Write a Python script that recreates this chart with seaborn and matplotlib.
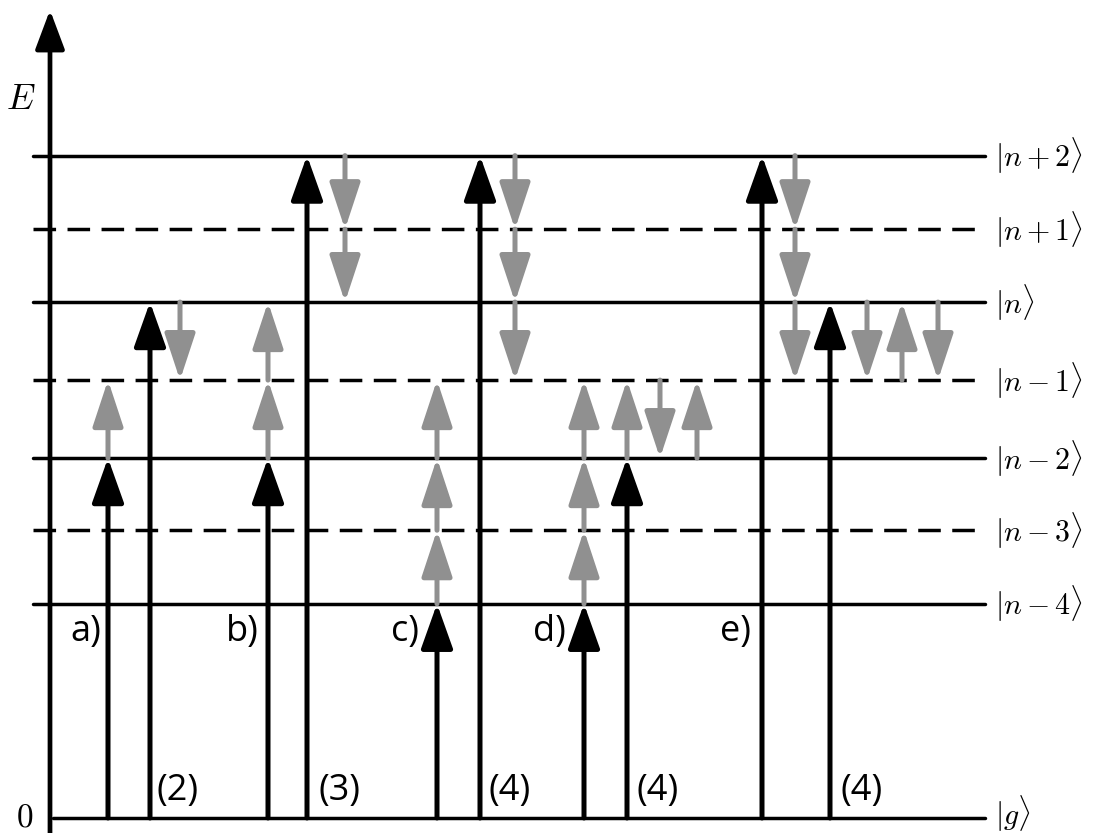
import matplotlib.pyplot as plt
import seaborn as sns
import pandas as pd

# energy levels (arbitrary units, ground = 0)
levels = ["g", "n-4", "n-3", "n-2", "n-1", "n", "n+1", "n+2"]
energies = [0.0, 2.91, 3.91, 4.89, 5.95, 7.01, 8.0, 9.0]
virtual_levels = ["n-3", "n-1", "n+1"]
level_labels = [r"$|g\rangle$", r"$|n-4\rangle$", r"$|n-3\rangle$", r"$|n-2\rangle$",
                r"$|n-1\rangle$", r"$|n\rangle$", r"$|n+1\rangle$", r"$|n+2\rangle$"]

panel_labels = ["a)", "b)", "c)", "d)", "e)"]
order_labels = ["(2)", "(3)", "(4)", "(4)", "(4)"]

# transitions per panel: (kind, chain of levels)
panel_a = [("pump", ["g", "n-2"]), ("step", ["n-2", "n-1"]),
           ("pump", ["g", "n"]), ("step", ["n", "n-1"])]
panel_b = [("pump", ["g", "n-2"]), ("step", ["n-2", "n-1", "n"]),
           ("pump", ["g", "n+2"]), ("step", ["n+2", "n+1", "n"])]
panel_c = [("pump", ["g", "n-4"]), ("step", ["n-4", "n-3", "n-2", "n-1"]),
           ("pump", ["g", "n+2"]), ("step", ["n+2", "n+1", "n", "n-1"])]
panel_d = [("pump", ["g", "n-4"]), ("step", ["n-4", "n-3", "n-2", "n-1"]),
           ("pump", ["g", "n-2"]), ("step", ["n-2", "n-1"]),
           ("step", ["n-1", "n-2"]), ("step", ["n-2", "n-1"])]
panel_e = [("pump", ["g", "n+2"]), ("step", ["n+2", "n+1", "n", "n-1"]),
           ("pump", ["g", "n"]), ("step", ["n", "n-1"]),
           ("step", ["n-1", "n"]), ("step", ["n", "n-1"])]
panels = [panel_a, panel_b, panel_c, panel_d, panel_e]

# layout (pixel-like x coordinates)
chain_x = [[108, 108, 150, 180],
           [268, 268, 307, 345],
           [437, 437, 480, 515],
           [584, 584, 627, 627, 660, 697],
           [762, 795, 830, 867, 902, 938]]
panel_label_x = [101, 259, 419, 566, 751]
order_label_x = [156, 319, 489, 636, 841]

E = dict(zip(levels, energies))
px = 73.6  # pixels per energy unit

sns.set_theme(style="white")
plt.rcParams["mathtext.fontset"] = "cm"
plt.rcParams["font.family"] = ["Open Sans", "DejaVu Sans"]
plt.rcParams["text.color"] = "black"

fig = plt.figure(figsize=(10.95, 8.33), dpi=100)
ax = fig.add_axes([0, 0, 1, 1])
ax.set_xlim(0, 1095)
ax.set_ylim(-15 / px, 818 / px)
ax.axis("off")

# level lines
rows = []
for lv in levels:
    x0 = 53 if lv == "g" else 33
    kind = "dashed" if lv in virtual_levels else "solid"
    rows.append({"x": x0, "E": E[lv], "level": lv, "kind": kind})
    rows.append({"x": 985, "E": E[lv], "level": lv, "kind": kind})
df = pd.DataFrame(rows)
sns.lineplot(data=df, x="x", y="E", units="level", estimator=None, style="kind",
             dashes={"solid": "", "dashed": (6.5, 3.3)}, color="black",
             lw=2.5, legend=False, ax=ax)

for lv, lab in zip(levels, level_labels):
    y = E[lv] + (4 / px if lv == "g" else 0)
    ax.text(995, y, lab, fontsize=21.5, ha="left", va="center")

# energy axis
ax.annotate("", xy=(50, 808 / px), xytext=(50, -15 / px),
            arrowprops=dict(arrowstyle="-|>,head_length=24,head_width=9",
                            mutation_scale=1, lw=3.4, color="black",
                            shrinkA=0, shrinkB=0))
ax.text(21, 718 / px, r"$E$", fontsize=26, ha="center", va="center")
ax.text(25, 0, r"$0$", fontsize=24, ha="center", va="center")


def arrow(x, e0, e1, kind):
    if kind == "pump":
        style = "-|>,head_length=27.5,head_width=9.8"
        col = "black"
    else:
        style = "-|>,head_length=28.5,head_width=9.4"
        col = "#909090"
    ax.annotate("", xy=(x, e1), xytext=(x, e0),
                arrowprops=dict(arrowstyle=style, mutation_scale=1, lw=3.6,
                                color=col, shrinkA=0, shrinkB=0))


for p, trans in enumerate(panels):
    # pumps first so cascades are drawn on top
    for kind_pass in ["pump", "step"]:
        for (kind, chain), x in zip(trans, chain_x[p]):
            if kind != kind_pass:
                continue
            for a, b in zip(chain[:-1], chain[1:]):
                arrow(x, E[a], E[b], kind)
    ax.text(panel_label_x[p], 186 / px, panel_labels[p], fontsize=26,
            ha="right", va="center")
    ax.text(order_label_x[p], 27 / px, order_labels[p], fontsize=26,
            ha="left", va="center")

fig.savefig("out.png", dpi=100, facecolor="white")
